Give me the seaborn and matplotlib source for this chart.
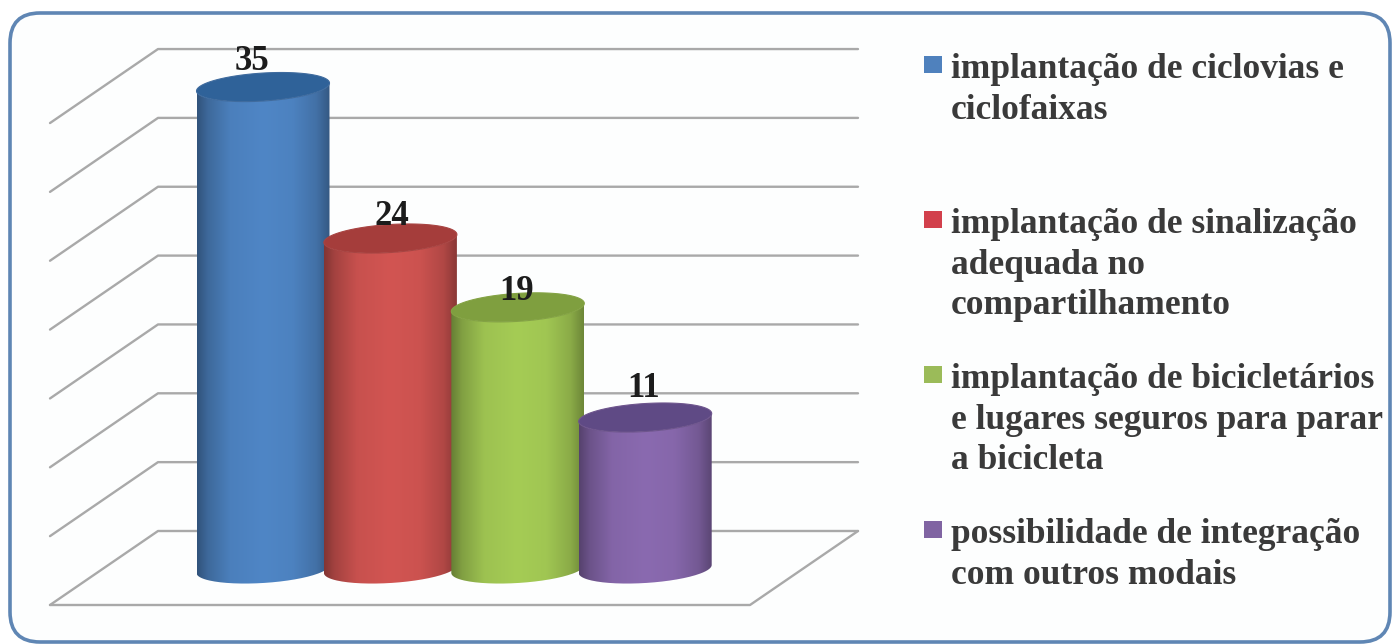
import numpy as np
import pandas as pd
import matplotlib
matplotlib.use("Agg")
import matplotlib.pyplot as plt
from matplotlib.colors import to_rgb
from matplotlib.patches import FancyBboxPatch, Polygon
from matplotlib.path import Path
import seaborn as sns

# Survey data
categories = [
    "implantação de ciclovias e\nciclofaixas",
    "implantação de sinalização\nadequada no\ncompartilhamento",
    "implantação de bicicletários\ne lugares seguros para parar\na bicicleta",
    "possibilidade de integração\ncom outros modais",
]
values = [35, 24, 19, 11]
grid_values = [0, 5, 10, 15, 20, 25, 30, 35]

# Styling
bar_colors = ["#4f86c6", "#d25552", "#a5cc55", "#8a6ab0"]
top_colors = ["#2f6299", "#a53d3b", "#7f9f3f", "#5f4a85"]
legend_colors = ["#4f81bd", "#d2404c", "#9bbb59", "#8064a2"]
shade_pos = [0.0, 0.08, 0.25, 0.5, 0.72, 0.9, 1.0]
shade_val = [0.62, 0.78, 0.95, 1.0, 0.97, 0.84, 0.66]
label_offsets = [(-11, 26), (1, 22), (-1, 16), (-2, 29)]

W, H = 1393, 644
PX_X = 127.4   # pixels per category step
PX_Y = 13.77   # pixels per value unit
X0, Y0 = 263, 569   # pixel position of first category at value 0

sns.set_theme(style="white")
plt.rcParams["font.family"] = ["Liberation Serif", "DejaVu Serif"]

fig = plt.figure(figsize=(W / 100, H / 100), dpi=100, facecolor="white")

# Rounded frame, drawn in pixel coordinates
bg = fig.add_axes([0, 0, 1, 1], zorder=0)
bg.set_xlim(0, W)
bg.set_ylim(H, 0)
bg.axis("off")
bg.add_patch(FancyBboxPatch((10 + 30, 13 + 30), 1380 - 60, 629 - 60,
                            boxstyle="round,pad=30,rounding_size=30",
                            fc="#fdfefe", ec="#5f86b4", lw=2.6))

ax = fig.add_axes([0, 0, 1, 1], zorder=1)
ax.patch.set_alpha(0)

df = pd.DataFrame({"categoria": categories, "valor": values})
sns.barplot(data=df, x="categoria", y="valor", hue="categoria", order=categories,
            hue_order=categories, palette=bar_colors, width=133 / PX_X,
            legend=False, dodge=False, ax=ax)

# Perspective box: back wall, side wall and floor
back_dy = 38 / PX_Y
depth_x = 108 / PX_X
depth_y = 74 / PX_Y
left_back = (158 - X0) / PX_X
right_back = (858 - X0) / PX_X
grid_kw = dict(color="#a9a9a9", lw=1.7, zorder=1, solid_capstyle="round", solid_joinstyle="round")
for g in grid_values:
    yb = g + back_dy
    ax.plot([left_back - depth_x, left_back, right_back], [yb - depth_y, yb, yb], **grid_kw)
floor_y = back_dy
ax.plot([left_back - depth_x, right_back - depth_x, right_back],
        [floor_y - depth_y, floor_y - depth_y, floor_y], **grid_kw)

# Cylinders built from the bar geometry
b = 14 / PX_Y
shear = 0.06 * PX_X / PX_Y


def rim(cx, cy, a, t):
    x = cx + a * np.cos(t)
    return x, cy + b * np.sin(t) + shear * (x - cx)


bars = list(ax.patches)
for i, (bar, color) in enumerate(zip(bars, bar_colors)):
    x0, w, top = bar.get_x(), bar.get_width(), bar.get_height()
    bar.set_visible(False)
    a, cx = w / 2, x0 + w / 2
    z = 3 + i
    t_low = np.linspace(np.pi, 2 * np.pi, 80)
    bx, by = rim(cx, 0, a, t_low)
    tx, ty = rim(cx, top, a, t_low[::-1])
    side = Path(np.column_stack([np.r_[bx, tx], np.r_[by, ty]]))

    base = np.array(to_rgb(color))
    u = np.linspace(0, 1, 256)
    grad = np.clip(np.interp(u, shade_pos, shade_val)[None, :, None] * base, 0, 1)
    im = ax.imshow(grad, extent=(x0, x0 + w, -b * 2, top + b * 2), aspect="auto",
                   interpolation="bilinear", zorder=z)
    im.set_clip_path(side, transform=ax.transData)

    t = np.linspace(0, 2 * np.pi, 160)
    ex, ey = rim(cx, top, a, t)
    ax.add_patch(Polygon(np.column_stack([ex, ey]), closed=True, fc=top_colors[i],
                         ec=base * 0.8, lw=0.8, zorder=z + 0.5))

    dx, dy = label_offsets[i]
    ax.annotate(str(values[i]), (cx, top), xytext=(dx, dy), textcoords="offset pixels",
                ha="center", va="center", fontsize=25, fontweight="bold",
                color="#1c1c1c", zorder=20)

ax.set_xlim((0 - X0) / PX_X, (W - X0) / PX_X)
ax.set_ylim((Y0 - H) / PX_Y, Y0 / PX_Y)
ax.axis("off")

# Legend entries with wrapped labels
for i, (label, color) in enumerate(zip(categories, legend_colors)):
    base_y = 78 + 155 * i
    bg.add_patch(plt.Rectangle((924, base_y - 22), 18, 17, fc=color, ec="none", zorder=3))
    for j, line in enumerate(label.split("\n")):
        bg.text(951, base_y + 40.5 * j, line, ha="left", va="baseline", fontsize=25.5,
                fontweight="bold", color="#3a3a3a", zorder=3)

fig.savefig("out.png", dpi=100)
